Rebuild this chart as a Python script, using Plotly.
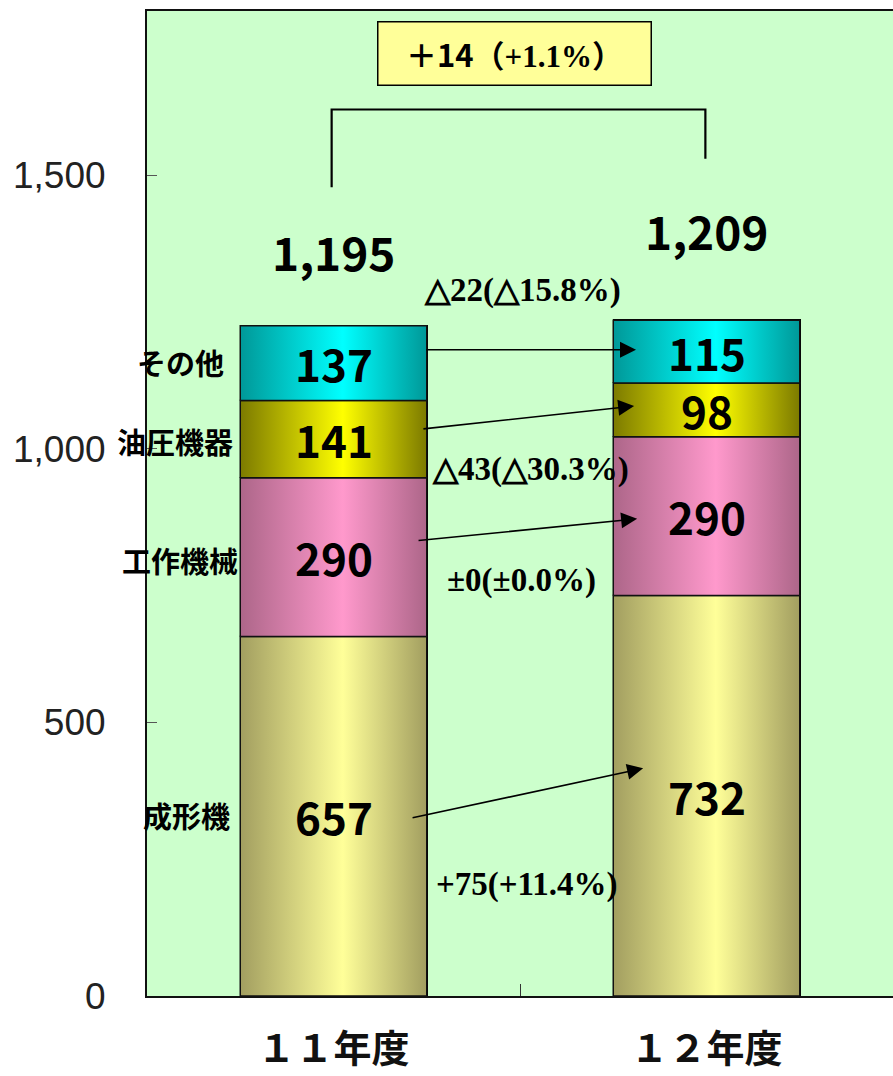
import plotly.graph_objects as go

# ---------------- data ----------------
categories = ["１１年度", "１２年度"]
series = ["成形機", "工作機械", "油圧機器", "その他"]
values_11 = [657, 290, 141, 137]
values_12 = [732, 290, 98, 115]
totals = ["1,195", "1,209"]
changes = ["+75(+11.4%)", "±0(±0.0%)", "△43(△30.3%)", "△22(△15.8%)"]
total_change = ("＋14", "（", "+1.1%", "）")
y_ticks = [0, 500, 1000, 1500]
y_ticktext = ["0", "500", "1,000", "1,500"]

# ---------------- styles ----------------
edge_colors = ["#A29E60", "#AD6689", "#7C7A00", "#009898"]
center_colors = ["#FFFF99", "#FF99CC", "#FFFF00", "#00FFFF"]
BAR_W = 0.5
GOTHIC = "Noto Sans CJK JP"
SERIF = "Liberation Serif"

fig = go.Figure()

values_by_cat = [values_11, values_12]

# base bars (stacked)
for s, name in enumerate(series):
    fig.add_trace(go.Bar(
        x=[0, 1], y=[values_11[s], values_12[s]], name=name,
        width=BAR_W, marker=dict(color=center_colors[s], line=dict(color="black", width=1.5)),
        showlegend=False, hoverinfo="skip"))

# gradient overlay for each segment (computed from data)
for ci, vals in enumerate(values_by_cat):
    base = 0
    for s, v in enumerate(vals):
        x0, x1 = ci - BAR_W / 2, ci + BAR_W / 2
        fig.add_trace(go.Scatter(
            x=[x0, x1, x1, x0, x0], y=[base, base, base + v, base + v, base],
            mode="lines", fill="toself",
            fillgradient=dict(type="horizontal", start=x0, stop=x1,
                              colorscale=[[0, edge_colors[s]], [0.55, center_colors[s]], [1, edge_colors[s]]]),
            line=dict(color="#111111", width=1.5),
            showlegend=False, hoverinfo="skip"))
        fig.add_annotation(x=ci, y=base + v / 2, text=f"<b>{v}</b>", showarrow=False,
                           font=dict(family=GOTHIC, size=44, color="black"))
        base += v

# totals
total_y = [1362, 1399]
for ci, t in enumerate(totals):
    fig.add_annotation(x=ci, y=total_y[ci], text=f"<b>{t}</b>", showarrow=False,
                       font=dict(family=GOTHIC, size=46, color="black"))

# series labels at left
label_pos = [(-0.393, 331), (-0.412, 797), (-0.425, 1015), (-0.409, 1159)]
for s, name in enumerate(series):
    fig.add_annotation(x=label_pos[s][0], y=label_pos[s][1], text=f"<b>{name}</b>", showarrow=False,
                       font=dict(family=GOTHIC, size=29, color="black"))

# change labels
change_pos = [(0.519, 203), (0.505, 760), (0.527, 962), (0.508, 1289)]
for s, txt in enumerate(changes):
    fig.add_annotation(x=change_pos[s][0], y=change_pos[s][1], text=f"<b>{txt}</b>", showarrow=False,
                       font=dict(family=SERIF, size=33, color="black"))

# arrows between the bars
arrows = [((0.208, 325), (0.830, 416)),
          ((0.224, 832), (0.814, 872)),
          ((0.237, 1036), (0.806, 1078)),
          ((0.245, 1181), (0.811, 1181))]
for (sx, sy), (ex, ey) in arrows:
    fig.add_annotation(x=ex, y=ey, ax=sx, ay=sy, xref="x", yref="y", axref="x", ayref="y",
                       text="", showarrow=True, arrowhead=2, arrowsize=2.0, arrowwidth=1.6,
                       arrowcolor="black")

# bracket
fig.add_shape(type="path", path="M -0.005,1478 L -0.005,1620 L 0.997,1620 L 0.997,1530",
              line=dict(color="black", width=2.2), xref="x", yref="y")

# total change box
tc = total_change
fig.add_annotation(
    x=0.484, y=1722, showarrow=False,
    text=(f"<span style='font-family:{GOTHIC}'><b>{tc[0]}{tc[1]}</b></span>"
          f"<span style='font-family:{SERIF}'><b>{tc[2]}</b></span>"
          f"<span style='font-family:{GOTHIC}'><b>{tc[3]}</b></span>"),
    font=dict(family=GOTHIC, size=31, color="black"),
    bgcolor="#FFFF99", bordercolor="black", borderwidth=1.5,
    width=270, height=60)

fig.update_layout(
    width=893, height=1076,
    margin=dict(l=147, r=0, t=11, b=80),
    paper_bgcolor="white", plot_bgcolor="#CCFFCC",
    barmode="stack", bargap=0.5,
    showlegend=False,
    xaxis=dict(range=[-0.5, 1.5], tickvals=[0, 1], ticktext=[f"<b>{c}</b>" for c in categories],
               showgrid=False, zeroline=False, ticks="",
               showline=True, linecolor="#111111", linewidth=2, mirror=True,
               tickfont=dict(family=GOTHIC, size=38, color="#111111"),
               ticklabelstandoff=18,
               minor=dict(tickvals=[0.5], ticks="inside", ticklen=12, tickcolor="#333333", tickwidth=1)),
    yaxis=dict(range=[0, 1800], tickvals=y_ticks, ticktext=y_ticktext,
               showgrid=False, zeroline=False,
               showline=True, linecolor="#111111", linewidth=2,
               ticks="inside", ticklen=10, tickcolor="#555555", tickwidth=1,
               tickfont=dict(family="Liberation Sans", size=37, color="#222222"),
               ticklabelstandoff=32),
)

post = ("document.documentElement.style.margin='0';document.body.style.margin='0';"
        "document.documentElement.style.overflow='hidden';document.body.style.overflow='hidden';")
fig.write_html("out.html", post_script=post, config={"displayModeBar": False})
